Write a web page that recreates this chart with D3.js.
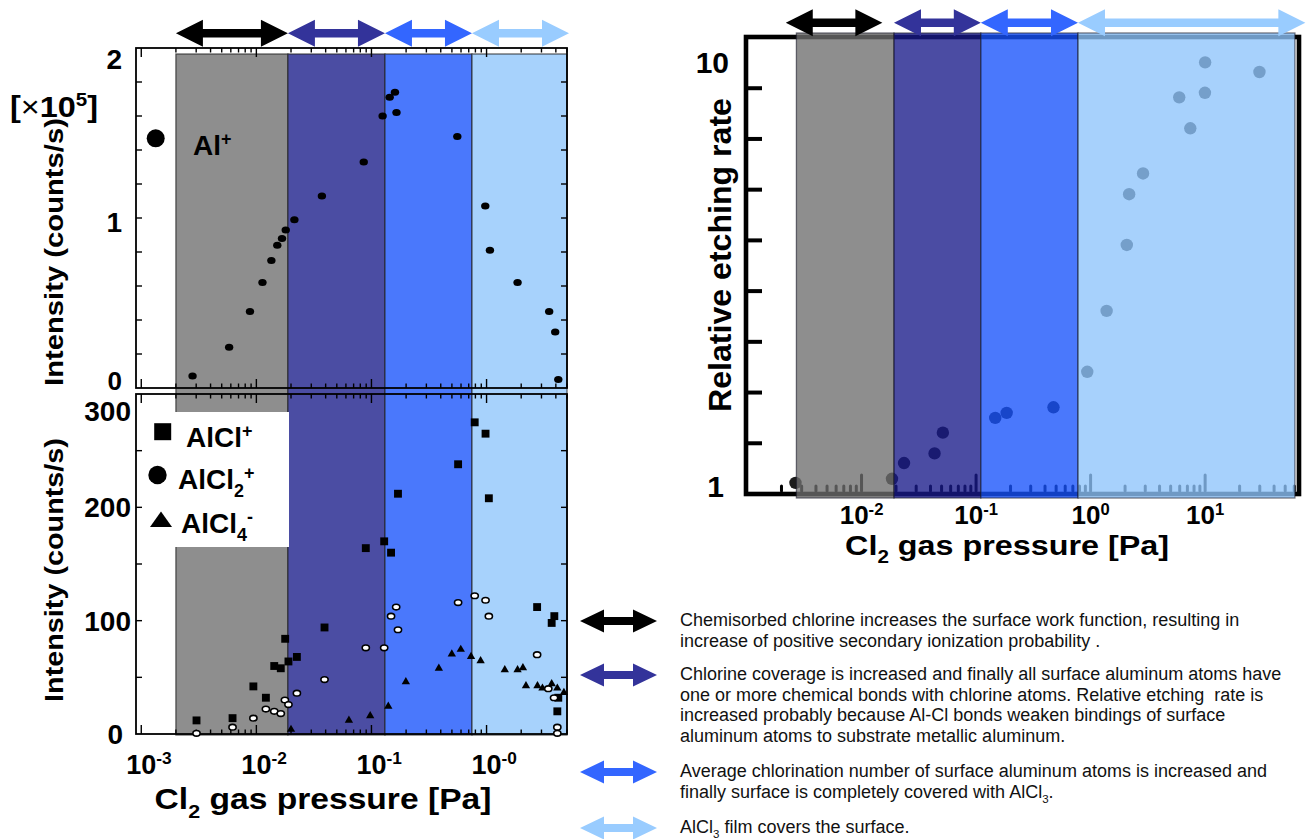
<!DOCTYPE html>
<html lang="en">
<head>
<meta charset="UTF-8">
<title>Al SIMS intensity and etching rate vs Cl2 pressure</title>
<style>
  body { margin: 0; background: #fff; }
  svg { display: block; font-family: "Liberation Sans", Arial, Helvetica, sans-serif; }
  .note { white-space: pre; }
</style>
</head>
<body>
<svg width="1306" height="839"></svg>
<script src="https://d3js.org/d3.v7.min.js"></script>
<script>
// ---------- values ----------
// top-left: Al+ intensity [x1e5 counts/s]
const alPressure  = [0.00279, 0.0058, 0.0088, 0.0113, 0.0135, 0.0152, 0.0167, 0.018, 0.0214, 0.0371, 0.0857,
                     0.125, 0.144, 0.160, 0.165, 0.557, 0.975, 1.07, 1.86, 3.50, 3.95, 4.20];
const alIntensity = [0.07, 0.24, 0.45, 0.62, 0.75, 0.84, 0.88, 0.93, 0.99, 1.13, 1.33,
                     1.60, 1.71, 1.74, 1.62, 1.48, 1.07, 0.81, 0.62, 0.45, 0.33, 0.05];

// bottom-left: AlCl+, AlCl2+, AlCl4- intensity [counts/s]
const alclPressure  = [0.00302, 0.00621, 0.00942, 0.0121, 0.0143, 0.0163, 0.0178, 0.019, 0.0225, 0.0391, 0.0893,
                       0.129, 0.148, 0.170, 0.566, 0.789, 0.98, 1.047, 2.75, 3.88, 3.68, 4.12, 4.2];
const alclIntensity = [12, 14, 42, 32, 60, 58, 84, 64, 68, 94, 164,
                       170, 160, 212, 238, 275, 265, 208, 112, 104, 98, 20, 32];
const alcl2Pressure  = [0.00302, 0.00621, 0.00942, 0.0121, 0.0143, 0.0163, 0.0177, 0.019, 0.0225, 0.0391, 0.0893, 0.129,
                        0.148, 0.164, 0.170, 0.566, 0.789, 0.98, 1.047, 2.75, 3.44, 3.86, 4.12, 4.12];
const alcl2Intensity = [0.6, 6, 14, 22, 20, 18, 30, 26, 36, 48, 76, 76,
                        104, 112, 92, 116, 122, 118, 104, 70, 40, 32, 6, 0.6];
const alcl4Pressure  = [0.020, 0.0637, 0.0975, 0.140, 0.199, 0.385, 0.499, 0.597, 0.733, 0.888,
                        1.44, 1.86, 2.07, 2.20, 2.77, 3.06, 3.68, 4.12, 4.70];
const alcl4Intensity = [4, 12, 16, 24.5, 46, 58, 70.5, 74.6, 68.4, 64.6,
                        56.6, 56.6, 58.4, 42.5, 42.5, 40.4, 44.2, 40.4, 36.5];

// right: relative etching rate
const etchPressure = [0.00265, 0.01845, 0.0235, 0.0434, 0.0513, 0.147, 0.185, 0.474, 0.935,
                      1.38, 2.07, 2.17, 2.87, 7.42, 5.94, 9.96, 10.0, 29.8];
const etchRate     = [1.22, 1.30, 1.61, 1.80, 2.21, 2.50, 2.60, 2.71, 3.41,
                      4.61, 5.91, 6.91, 7.32, 8.21, 8.82, 8.91, 9.51, 9.32];

// pressure regimes [Pa]
const leftBandEdges  = [0.002, 0.0188, 0.131, 0.747, 5.0];
const rightBandEdges = [0.0027, 0.0192, 0.110, 0.776, 60.8];
const rightArrowSpans = [[0.00218, 0.0152], [0.0192, 0.110], [0.110, 0.776], [0.776, 75]];
const bandColors      = ["#8e8e8e", "#4b4da3", "#4a78fc", "#a7d2fc"];
const rightBandColors = ["#6e6e6e", "#181a89", "#1752fb", "#8ec4fb"];
const arrowColors     = ["#000000", "#33339a", "#3366ff", "#99ccff"];

// tick labels
const leftXTicks  = [0.001, 0.01, 0.1, 1];
const leftXLabels = ["10^{-3}", "10^{-2}", "10^{-1}", "10^{-0}"];
const rightXTicks  = [0.01, 0.1, 1, 10];
const rightXLabels = ["10^{-2}", "10^{-1}", "10^{0}", "10^{1}"];
const topYTicks = [2, 1, 0];
const botYTicks = [300, 200, 100, 0];
const rightYTicks = [10, 1];

const speciesLabels = ["AlCl^{+}", "AlCl_{2}^{+}", "AlCl_{4}^{-}"];

const notes = [
  ["Chemisorbed chlorine increases the surface work function, resulting in",
   "increase of positive secondary ionization probability ."],
  ["Chlorine coverage is increased and finally all surface aluminum atoms have",
   "one or more chemical bonds with chlorine atoms. Relative etching  rate is",
   "increased probably because Al-Cl bonds weaken bindings of surface",
   "aluminum atoms to substrate metallic aluminum."],
  ["Average chlorination number of surface aluminum atoms is increased and",
   "finally surface is completely covered with AlCl_{3}."],
  ["AlCl_{3} film covers the surface."]
];

// ---------- helpers ----------
const svg = d3.select("svg");
svg.append("rect").attr("width", 1306).attr("height", 839).attr("fill", "#fff");

// text with _{sub} and ^{sup} parts
function addText(parent, str, size, opts = {}) {
  const t = parent.append("text")
    .attr("font-size", size)
    .attr("font-weight", opts.weight || "bold")
    .attr("text-anchor", opts.anchor || "start")
    .attr("fill", opts.fill || "#000");
  if (opts.cls) t.attr("class", opts.cls);
  const parts = str.split(/([_^]\{[^}]*\})/).filter(s => s.length);
  let shift = 0;
  parts.forEach(p => {
    let target = 0, fs = size, txt = p;
    if (/^[_^]\{/.test(p)) {
      target = p[0] === "_" ? 0.3 * size : -0.36 * size;
      fs = 0.64 * size;
      txt = p.slice(2, -1);
    }
    t.append("tspan").attr("font-size", fs).attr("dy", target - shift).text(txt);
    shift = target;
  });
  return t;
}
function place(t, x, y, sx = 1, rot = 0) {
  t.attr("transform", `translate(${x},${y})` + (rot ? ` rotate(${rot})` : "") + (sx !== 1 ? ` scale(${sx},1)` : ""));
  return t;
}
function stretchTo(t, w) {
  const bw = t.node().getBBox().width;
  return bw ? w / bw : 1;
}
function arrowPath(x0, x1, yc, hl, hh, sh) {
  const pts = [[x0, yc], [x0 + hl, yc - hh], [x0 + hl, yc - sh], [x1 - hl, yc - sh], [x1 - hl, yc - hh],
               [x1, yc], [x1 - hl, yc + hh], [x1 - hl, yc + sh], [x0 + hl, yc + sh], [x0 + hl, yc + hh]];
  return d3.line()(pts) + "Z";
}
const isDecade = t => Math.abs(Math.log10(t) - Math.round(Math.log10(t))) < 1e-9;

// ---------- scales ----------
const xL   = d3.scaleLog().domain([0.0009, 5]).range([136, 567]);
const yTop = d3.scaleLinear().domain([0, 2]).range([388, 48]);
const yBot = d3.scaleLinear().domain([0, 300]).range([734, 394]);
const xR   = d3.scaleLog().domain([0.001, 66]).range([747, 1299]);
const yR   = d3.scaleLinear().domain([1, 10]).range([494, 37.5]);

// ================= LEFT PANELS =================
const left = svg.append("g");

left.append("g").selectAll("rect")
  .data(d3.pairs(leftBandEdges))
  .join("rect")
  .attr("x", d => xL(d[0]))
  .attr("width", d => xL(d[1]) - xL(d[0]))
  .attr("y", 54).attr("height", 681)
  .attr("fill", (d, i) => bandColors[i])
  .attr("stroke", "#222").attr("stroke-opacity", 0.7).attr("stroke-width", 1.3);

// legend box of the lower panel
left.append("rect").attr("x", 138).attr("y", 412).attr("width", 151).attr("height", 135).attr("fill", "#fff");

function leftFrame(y, yTicks) {
  const g = left.append("g").attr("stroke", "#000").attr("stroke-width", 1.4);
  const [x0, x1] = xL.range();
  const [yb, yt] = y.range();
  xL.ticks().filter(t => t > xL.domain()[0] * 1.01).forEach(t => {
    const len = isDecade(t) ? 9 : 4.5;
    g.append("line").attr("x1", xL(t)).attr("x2", xL(t)).attr("y1", yt).attr("y2", yt + len);
    g.append("line").attr("x1", xL(t)).attr("x2", xL(t)).attr("y1", yb).attr("y2", yb - len);
  });
  yTicks.forEach(v => {
    g.append("line").attr("x1", x0).attr("x2", x0 + 6).attr("y1", y(v)).attr("y2", y(v));
    g.append("line").attr("x1", x1).attr("x2", x1 - 6).attr("y1", y(v)).attr("y2", y(v));
  });
  g.append("rect").attr("x", x0).attr("y", yt).attr("width", x1 - x0).attr("height", yb - yt)
    .attr("fill", "none").attr("stroke-width", 1.8);
}
leftFrame(yTop, yTop.ticks(10).filter(v => v > 0 && v < 2));
leftFrame(yBot, yBot.ticks(6).filter(v => v > 0 && v < 300));

// Al+ points
left.append("g").selectAll("ellipse")
  .data(d3.zip(alPressure, alIntensity))
  .join("ellipse")
  .attr("cx", d => xL(d[0])).attr("cy", d => yTop(d[1]))
  .attr("rx", 4.2).attr("ry", 3.5).attr("fill", "#000");

// AlCl+ squares
left.append("g").selectAll("path")
  .data(d3.zip(alclPressure, alclIntensity))
  .join("path")
  .attr("d", d3.symbol(d3.symbolSquare, 62))
  .attr("transform", d => `translate(${xL(d[0])},${yBot(d[1])})`)
  .attr("fill", "#000");
// AlCl4- triangles
left.append("g").selectAll("path")
  .data(d3.zip(alcl4Pressure, alcl4Intensity))
  .join("path")
  .attr("d", d3.symbol(d3.symbolTriangle, 30))
  .attr("transform", d => `translate(${xL(d[0])},${yBot(d[1])})`)
  .attr("fill", "#000");
// AlCl2+ open circles
left.append("g").selectAll("ellipse")
  .data(d3.zip(alcl2Pressure, alcl2Intensity))
  .join("ellipse")
  .attr("cx", d => xL(d[0])).attr("cy", d => yBot(d[1]))
  .attr("rx", 3.6).attr("ry", 2.8)
  .attr("fill", "#fff").attr("stroke", "#000").attr("stroke-width", 1.6);

// legend of the panels
left.append("circle").attr("cx", 155.7).attr("cy", 138.3).attr("r", 9).attr("fill", "#000");
place(addText(left, "Al^{+}", 28), 193, 155);

left.append("path").attr("d", d3.symbol(d3.symbolSquare, 289)).attr("transform", "translate(162.7,431.7)");
left.append("circle").attr("cx", 157.5).attr("cy", 475).attr("r", 9.2);
left.append("path").attr("d", "M150,527 L161,511.5 L172,527 Z");
place(addText(left, speciesLabels[0], 28), 186, 446.7);
place(addText(left, speciesLabels[1], 28), 178, 489);
place(addText(left, speciesLabels[2], 28), 181, 533);

// y tick labels
topYTicks.forEach(v => {
  const off = v === 2 ? 11 : v === 1 ? 4 : -7;
  const fs = v === 0 ? 26 : 28;
  place(addText(left, String(v), fs, {anchor: "end"}).attr("dominant-baseline", "central"), 122, yTop(v) + off);
});
botYTicks.forEach(v => {
  const off = v === 300 ? 17 : 0;
  const xr = v === 0 ? 123 : 131;
  place(addText(left, String(v), 28, {anchor: "end"}).attr("dominant-baseline", "central"), xr, yBot(v) + off);
});

// x tick labels
leftXTicks.forEach((t, i) => place(addText(left, leftXLabels[i], 27), xL(t) - 15, 774));

// [x10^5]
{
  const t = left.append("text").attr("font-size", 30).attr("font-weight", "bold");
  t.append("tspan").text("[");
  t.append("tspan").attr("font-weight", "normal").text("\u00d7");
  t.append("tspan").text("10");
  t.append("tspan").attr("font-size", 19).attr("dy", -11).text("5");
  t.append("tspan").attr("dy", 11).text("]");
  place(t, 10, 117, stretchTo(t, 88));
}

// axis titles
{
  const t1 = addText(left, "Intensity (counts/s)", 26, {anchor: "middle"});
  place(t1, 63, 252, stretchTo(t1, 268), -90);
  const t2 = addText(left, "Intensity (counts/s)", 26, {anchor: "middle"});
  place(t2, 63, 570, stretchTo(t2, 264), -90);
  const t3 = addText(left, "Cl_{2} gas pressure [Pa]", 30, {anchor: "middle"});
  place(t3, 323, 809, stretchTo(t3, 337));
}

// regime arrows above left panels
left.append("g").selectAll("path")
  .data(d3.pairs(leftBandEdges))
  .join("path")
  .attr("d", (d, i) => arrowPath(xL(d[0]), xL(d[1]) + (i === 3 ? 2 : 0), 33.3, 27, 13.5, 4.2))
  .attr("fill", (d, i) => arrowColors[i]);

// ================= RIGHT PANEL =================
const right = svg.append("g");
const [rx0, rx1] = xR.range();

right.append("rect").attr("x", rx0 - 1).attr("y", 37).attr("width", rx1 - rx0 + 1).attr("height", 457)
  .attr("fill", "none").attr("stroke", "#000").attr("stroke-width", 4.6);

right.append("g").attr("stroke", "#000").attr("stroke-width", 4)
  .selectAll("line")
  .data(yR.ticks(9).filter(v => v > 1 && v < 10))
  .join("line")
  .attr("x1", rx0).attr("x2", rx0 + 15)
  .attr("y1", d => yR(d)).attr("y2", d => yR(d));

right.append("g").attr("stroke", "#000").attr("stroke-width", 3).attr("stroke-linecap", "round")
  .selectAll("line")
  .data(xR.ticks().filter(t => t > xR.domain()[0] * 1.01))
  .join("line")
  .attr("x1", d => xR(d)).attr("x2", d => xR(d))
  .attr("y1", 491).attr("y2", d => isDecade(d) ? 475 : 486);

right.append("g").selectAll("circle")
  .data(d3.zip(etchPressure, etchRate))
  .join("circle")
  .attr("cx", d => xR(d[0])).attr("cy", d => yR(d[1]))
  .attr("r", 6.2).attr("fill", "#1c1c1c");

right.append("g").selectAll("rect")
  .data(d3.pairs(rightBandEdges))
  .join("rect")
  .attr("x", d => xR(d[0]))
  .attr("width", d => xR(d[1]) - xR(d[0]))
  .attr("y", 33).attr("height", 465)
  .attr("fill", (d, i) => rightBandColors[i]).attr("fill-opacity", 0.78)
  .attr("stroke", "#1a1a2a").attr("stroke-opacity", 0.6).attr("stroke-width", 1.3);

right.append("g").selectAll("path")
  .data(rightArrowSpans)
  .join("path")
  .attr("d", d => arrowPath(xR(d[0]), xR(d[1]), 22.7, 27, 13.5, 4.2))
  .attr("fill", (d, i) => arrowColors[i]);

rightYTicks.forEach(v => {
  const off = v === 10 ? 24 : -8;
  const xr = v === 10 ? 729 : 724;
  place(addText(right, String(v), 30, {anchor: "end"}).attr("dominant-baseline", "central"), xr, yR(v) + off);
});
rightXTicks.forEach((t, i) => place(addText(right, rightXLabels[i], 26, {anchor: "middle"}), xR(t), 524));
{
  const t1 = addText(right, "Relative etching rate", 32, {anchor: "middle"});
  place(t1, 731, 255, stretchTo(t1, 314), -90);
  const t2 = addText(right, "Cl_{2} gas pressure [Pa]", 28, {anchor: "middle"});
  place(t2, 1007, 555, stretchTo(t2, 324));
}

// ================= NOTES =================
const notesG = svg.append("g");
const noteBaselines = [626, 680, 777, 833];
notes.forEach((lines, i) => {
  notesG.append("path")
    .attr("d", arrowPath(580, 657, noteBaselines[i] - 5, 24, 11.5, 4))
    .attr("fill", arrowColors[i]);
  lines.forEach((line, j) => {
    place(addText(notesG, line, 18, {weight: "normal", fill: "#111", cls: "note"}), 680, noteBaselines[i] + j * 20.7);
  });
});
</script>
</body>
</html>
